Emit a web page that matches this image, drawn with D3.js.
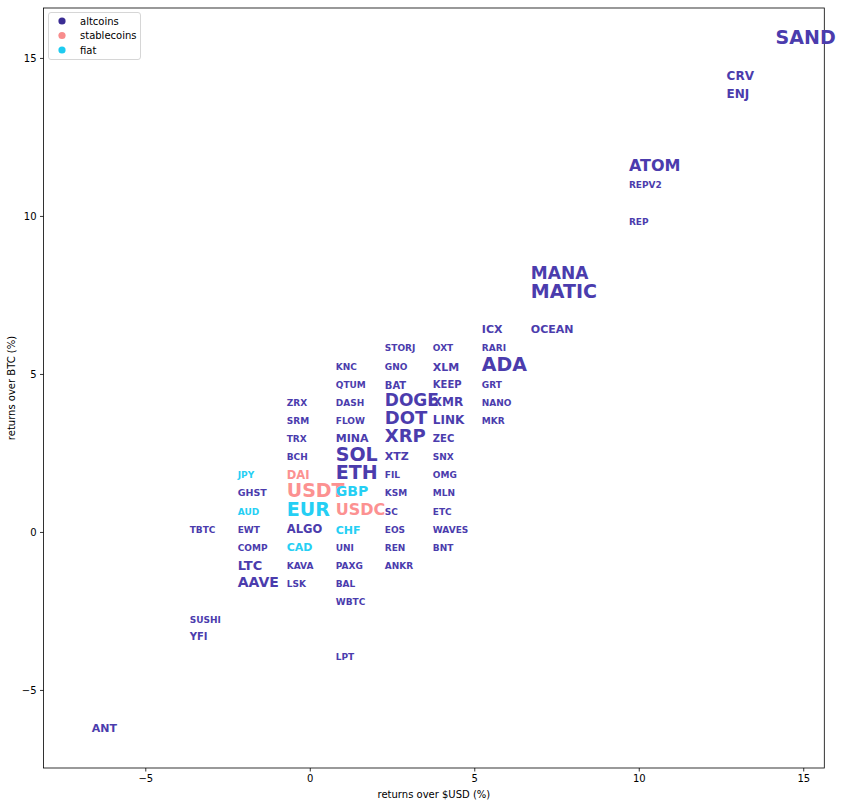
<!DOCTYPE html>
<html>
<head>
<meta charset="utf-8">
<script src="https://cdn.jsdelivr.net/npm/d3@7"></script>
<style>
  html, body { margin: 0; padding: 0; background: #ffffff; }
  svg { display: block; }
  text { font-family: "DejaVu Sans", sans-serif; }
</style>
</head>
<body>
<svg id="chart" width="842" height="806"></svg>
<script>
// ---------- data ----------
const names = [
  "ANT",
  "TBTC","SUSHI","YFI",
  "JPY","GHST","AUD","EWT","COMP","LTC","AAVE",
  "ZRX","SRM","TRX","BCH","DAI","USDT","EUR","ALGO","CAD","KAVA","LSK",
  "KNC","QTUM","DASH","FLOW","MINA","SOL","ETH","GBP","USDC","CHF","UNI","PAXG","BAL","WBTC","LPT",
  "STORJ","GNO","BAT","DOGE","DOT","XRP","XTZ","FIL","KSM","SC","EOS","REN","ANKR",
  "OXT","XLM","KEEP","XMR","LINK","ZEC","SNX","OMG","MLN","ETC","WAVES","BNT",
  "ICX","RARI","ADA","GRT","NANO","MKR",
  "MANA","MATIC","OCEAN",
  "ATOM","REPV2","REP",
  "CRV","ENJ",
  "SAND"
];
const groups = [
  "altcoins",
  "altcoins","altcoins","altcoins",
  "fiat","altcoins","fiat","altcoins","altcoins","altcoins","altcoins",
  "altcoins","altcoins","altcoins","altcoins","stablecoins","stablecoins","fiat","altcoins","fiat","altcoins","altcoins",
  "altcoins","altcoins","altcoins","altcoins","altcoins","altcoins","altcoins","fiat","stablecoins","fiat","altcoins","altcoins","altcoins","altcoins","altcoins",
  "altcoins","altcoins","altcoins","altcoins","altcoins","altcoins","altcoins","altcoins","altcoins","altcoins","altcoins","altcoins","altcoins",
  "altcoins","altcoins","altcoins","altcoins","altcoins","altcoins","altcoins","altcoins","altcoins","altcoins","altcoins","altcoins",
  "altcoins","altcoins","altcoins","altcoins","altcoins","altcoins",
  "altcoins","altcoins","altcoins",
  "altcoins","altcoins","altcoins",
  "altcoins","altcoins",
  "altcoins"
];
// returns over $USD (%)
const usdReturns = [
  -6.63,
  -3.65,-3.65,-3.65,
  -2.19,-2.19,-2.19,-2.19,-2.19,-2.19,-2.19,
  -0.70,-0.70,-0.70,-0.70,-0.70,-0.70,-0.70,-0.70,-0.70,-0.70,-0.70,
  0.79,0.79,0.79,0.79,0.79,0.79,0.79,0.79,0.79,0.79,0.79,0.79,0.79,0.79,0.79,
  2.28,2.28,2.28,2.28,2.28,2.28,2.28,2.28,2.28,2.28,2.28,2.28,2.28,
  3.74,3.74,3.74,3.74,3.74,3.74,3.74,3.74,3.74,3.74,3.74,3.74,
  5.23,5.23,5.23,5.23,5.23,5.23,
  6.72,6.72,6.72,
  9.70,9.70,9.70,
  12.67,12.67,
  14.16
];
// returns over BTC (%)
const btcReturns = [
  -6.20,
  0.06,-2.78,-3.32,
  1.80,1.23,0.63,0.06,-0.51,-1.05,-1.58,
  4.08,3.51,2.94,2.37,1.80,1.33,0.73,0.10,-0.47,-1.08,-1.65,
  5.22,4.65,4.08,3.51,2.97,2.47,1.90,1.30,0.73,0.06,-0.51,-1.08,-1.65,-2.22,-3.96,
  5.82,5.22,4.65,4.18,3.61,3.04,2.41,1.80,1.23,0.63,0.06,-0.51,-1.08,
  5.82,5.22,4.68,4.11,3.54,2.97,2.37,1.80,1.23,0.63,0.06,-0.51,
  6.42,5.82,5.32,4.65,4.08,3.51,
  8.20,7.63,6.42,
  11.61,10.98,9.81,
  14.43,13.86,
  15.66
];
// relative market size (drives label size)
const marketSize = [
  11,
  9,9,10,
  9,9.5,9,9,9,13,14,
  9,9,9,9,11.5,19,19,11.5,11,9,9,
  9,9,9,9,11,19,19,14,16,11,9,9,9,9,9,
  9,9,10,17,18,18,11,9,9,9,9,9,9,
  9,11,10,12,12,10,9,9,9,9,9,9,
  11,9,19,9,9,9,
  17,19,11,
  16,9,9,
  12,12,
  19
];
const groupNames = ["altcoins","stablecoins","fiat"];
const groupText = ["#4b3cad","#fc9191","#25cff4"];
const groupDot  = ["#3a2c93","#f88c8c","#1ecbf0"];
const xTicks = [-5,0,5,10,15];
const yTicks = [-5,0,5,10,15];

// ---------- layout ----------
const svg = d3.select("#chart");
const L = 43.5, R = 824.3, T = 8, B = 768;
const x = d3.scaleLinear().domain([-8.094, 15.64]).range([L, R]);
const y = d3.scaleLinear().domain([-7.47, 16.58]).range([B, T]);
const fontSize = d3.scaleLinear().domain([9, 19]).range([9, 19]);
const textColor = d3.scaleOrdinal().domain(groupNames).range(groupText);
const dotColor = d3.scaleOrdinal().domain(groupNames).range(groupDot);

const fmt = d => d < 0 ? "\u2212" + Math.abs(d) : String(d);

// axes
const xAxis = svg.append("g").attr("transform", `translate(0,${B})`)
  .call(d3.axisBottom(x).tickValues(xTicks).tickFormat(fmt).tickSize(3.5).tickPadding(3.5));
const yAxis = svg.append("g").attr("transform", `translate(${L},0)`)
  .call(d3.axisLeft(y).tickValues(yTicks).tickFormat(fmt).tickSize(3.5).tickPadding(3.5));
[xAxis, yAxis].forEach(a => {
  a.select(".domain").remove();
  a.selectAll(".tick line").attr("stroke", "#000").attr("stroke-width", 0.8);
  a.selectAll(".tick text").attr("font-size", 10).attr("fill", "#000")
    .attr("font-family", "DejaVu Sans, sans-serif");
});

// frame
svg.append("rect").attr("x", L).attr("y", T).attr("width", R - L).attr("height", B - T)
  .attr("fill", "none").attr("stroke", "#000").attr("stroke-width", 0.8);

// labels
const data = names.map((n, i) => ({
  name: n, group: groups[i], ux: usdReturns[i], by: btcReturns[i], s: marketSize[i]
}));
svg.append("g").selectAll("text").data(data).join("text")
  .attr("x", d => x(d.ux))
  .attr("y", d => y(d.by) + 0.36 * fontSize(d.s))
  .attr("font-size", d => fontSize(d.s))
  .attr("font-weight", "bold")
  .attr("fill", d => textColor(d.group))
  .text(d => d.name);

// axis titles
svg.append("text").attr("x", (L + R) / 2).attr("y", 798).attr("text-anchor", "middle")
  .attr("font-size", 10).text("returns over $USD (%)");
svg.append("text").attr("transform", `translate(15,${(T + B) / 2}) rotate(-90)`)
  .attr("text-anchor", "middle").attr("font-size", 10).text("returns over BTC (%)");

// legend
const lg = svg.append("g");
lg.append("rect").attr("x", 48.5).attr("y", 12.5).attr("width", 92).attr("height", 47)
  .attr("rx", 2.5).attr("fill", "#fff").attr("fill-opacity", 0.8)
  .attr("stroke", "#cccccc").attr("stroke-width", 0.8);
groupNames.forEach((g, i) => {
  const cy = 21 + i * 14.5;
  lg.append("circle").attr("cx", 62).attr("cy", cy).attr("r", 3.6).attr("fill", dotColor(g));
  lg.append("text").attr("x", 80).attr("y", cy + 3.6).attr("font-size", 10).text(g);
});
</script>
</body>
</html>
